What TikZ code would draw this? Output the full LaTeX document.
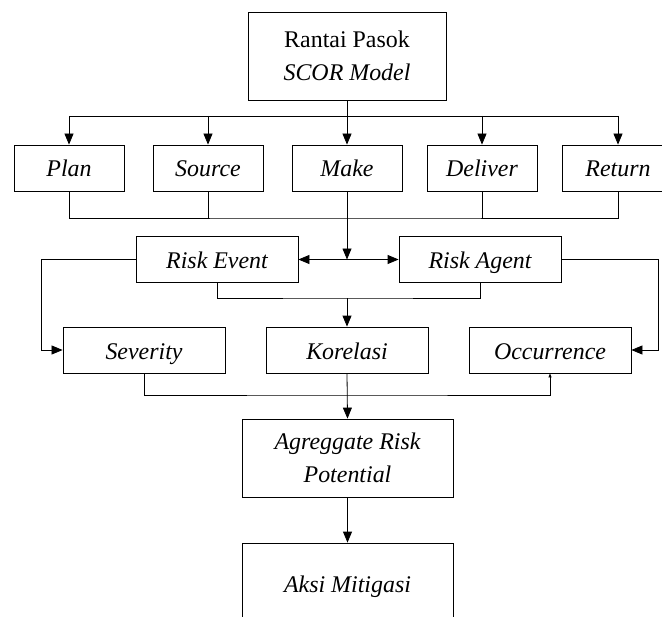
\documentclass[tikz,border=0pt]{standalone}
\usepackage{fontspec}
\setmainfont{Liberation Serif}
\usetikzlibrary{arrows.meta}

\begin{document}
\begin{tikzpicture}[x=1bp, y=-1bp, line width=0.8bp,
    >={Triangle[length=11bp,width=9bp]},
    box/.style={draw, inner sep=0pt, align=center, font=\fontsize{24}{33}\selectfont\itshape},
    line/.style={box, text height=20bp, text depth=2bp},
    small/.style={line, minimum width=110bp, minimum height=46bp},
    wide/.style={line, minimum width=162bp, minimum height=46bp},
    tiny/.style={-{Triangle[length=4bp,width=3bp]}}]
    \useasboundingbox (0,0) rectangle (662,617);
    \path (347,56) node [box, minimum width=198bp, minimum height=88bp] (scor) {\upshape Rantai Pasok\\SCOR Model};
    \path ( 69,168) node [small] (plan) {Plan};
    \path (208,168) node [small] (source) {Source};
    \path (347,168) node [small] (make) {Make};
    \path (482,168) node [small] (deliver) {Deliver};
    \path (618,168) node [small, minimum width=112bp] (return) {Return};
    \coordinate (topbus) at (347,116);
    \coordinate (lowbus) at (347,218);
    \draw (plan.north |- topbus) -- (return.north |- topbus);
    \draw [->] (scor.south) -- (make.north);
    \draw [->] (plan.north |- topbus) -- (plan.north);
    \draw [->] (source.north |- topbus) -- (source.north);
    \draw [->] (deliver.north |- topbus) -- (deliver.north);
    \draw [->] (return.north |- topbus) -- (return.north);
    \draw (plan.south) |- (lowbus) -| (return.south);
    \draw (source.south) -- (source.south |- lowbus);
    \draw (deliver.south) -- (deliver.south |- lowbus);
    \path (217,259.5) node [wide] (event) {Risk Event};
    \path (480,259.5) node [wide] (agent) {Risk Agent};
    \coordinate (mid) at (347,259.5);
    \draw [->] (make.south) -- (mid);
    \draw [<->] (event.east) -- (agent.west);
    \path (144,350) node [wide] (severity) {Severity};
    \path (347,350) node [wide] (korelasi) {Korelasi};
    \path (550,350) node [wide] (occurrence) {Occurrence};
    \coordinate (join) at (347,298);
    \draw [->] (event.west) -- ++(-94,0) |- (severity.west);
    \draw [->] (agent.east) -- ++(97,0) |- (occurrence.east);
    \draw (event.south) |- (join) -| (agent.south);
    \draw [->] (join) -- (korelasi.north);
    \coordinate (sum) at (347,395);
    \draw [tiny] (severity.south) |- (sum) -| (occurrence.south);
    \path (347.5,458) node [box, minimum width=211bp, minimum height=78bp] (arp) {Agreggate Risk\\Potential};
    \draw [->] (korelasi.south) -- (arp.north);
    \path (347.5,583) node [line, minimum width=211bp, minimum height=80bp] (mitigasi) {Aksi Mitigasi};
    \draw [->] (arp.south) -- (mitigasi.north);
\end{tikzpicture}
\end{document}
